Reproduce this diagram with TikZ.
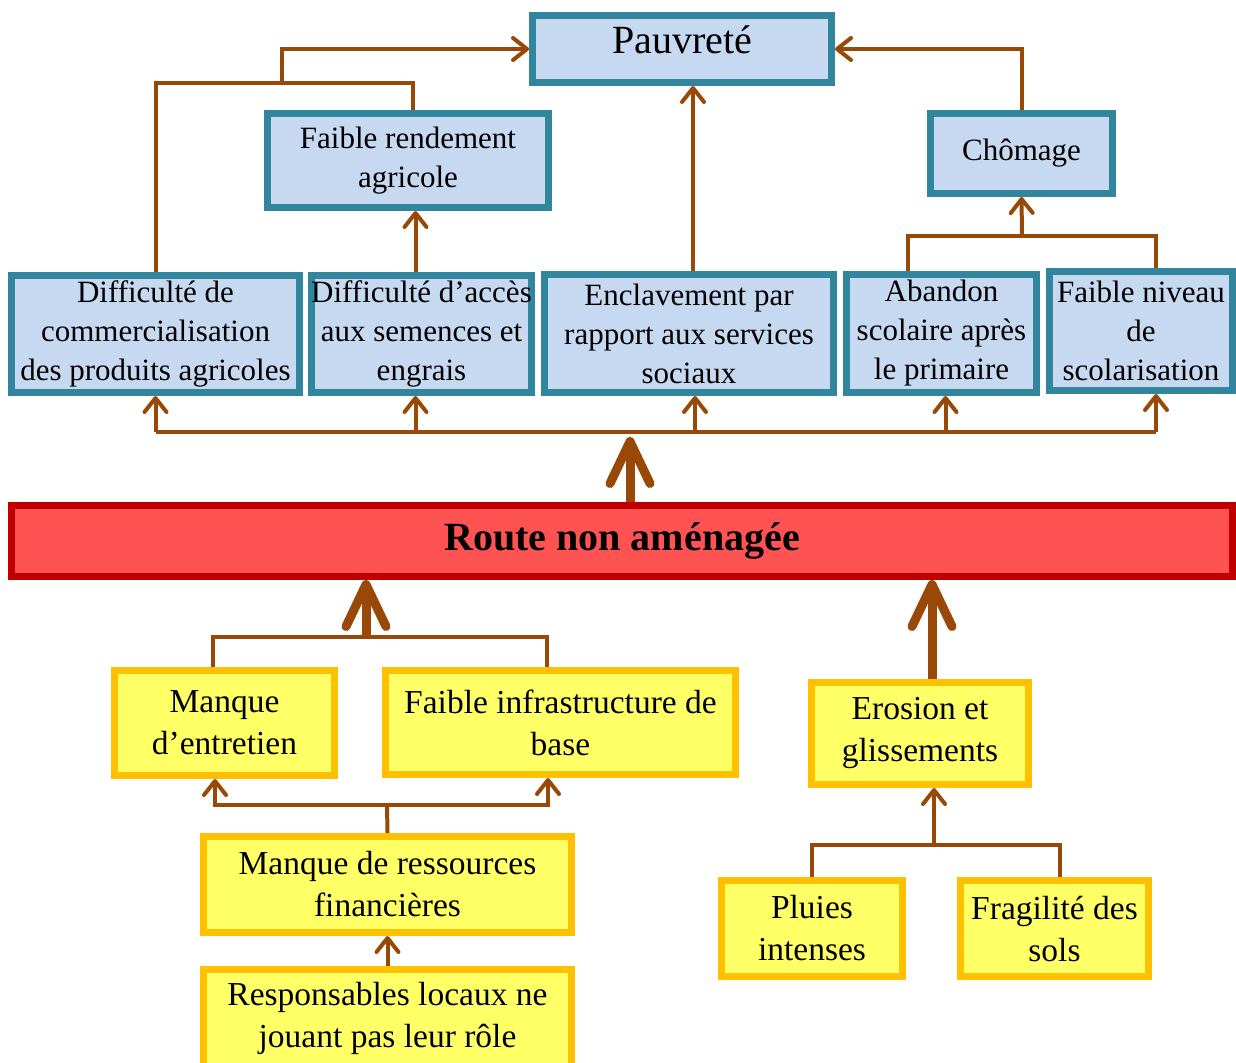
\documentclass[tikz,border=0pt]{standalone}
\usepackage{fontspec}
\setmainfont{Liberation Serif}
\usetikzlibrary{arrows.meta}

\definecolor{bleubord}{HTML}{31859C}
\definecolor{bleufond}{HTML}{C6D9F1}
\definecolor{jaunebord}{HTML}{FFC000}
\definecolor{jaunefond}{HTML}{FFFF66}
\definecolor{rougebord}{HTML}{C00000}
\definecolor{rougefond}{HTML}{FF5353}
\definecolor{brun}{HTML}{984807}

\begin{document}
\begin{tikzpicture}[x=0.5pt,y=-0.5pt]
          \tikzstyle{effet}=[draw=bleubord,fill=bleufond,line width=3.5pt,inner sep=0pt,align=center,font=\fontsize{15.5}{19.5}\selectfont]
          \tikzstyle{cause}=[draw=jaunebord,fill=jaunefond,line width=3.5pt,inner sep=0pt,align=center,font=\fontsize{16.75}{21}\selectfont]
          \tikzstyle{probleme}=[draw=rougebord,fill=rougefond,line width=3.5pt,inner sep=0pt,font=\fontsize{20}{24}\selectfont\bfseries]
          \tikzstyle{lien}=[draw=brun,line width=2pt]
          \tikzstyle{fleche}=[lien,-{Straight Barb[length=7pt,width=11pt,round]}]
          \tikzstyle{grosse}=[draw=brun,line width=4.5pt,-{Straight Barb[length=21pt,width=20pt,round]}]

          \useasboundingbox (0,0) rectangle (1236,1062);
          \clip (0,0) rectangle (1236,1062);

          % effets
          \node (pauv) at (682,49) [effet,minimum width=149.5pt,minimum height=33.5pt,font=\fontsize{20}{24}\selectfont] {Pauvreté\rule[-9pt]{0pt}{0pt}};
          \node (rend) at (408,160.5) [effet,minimum width=140.5pt,minimum height=47pt] {Faible rendement\\agricole};
          \node (chom) at (1021.5,153.5) [effet,minimum width=91pt,minimum height=40pt] {Chômage};
          \node (comm) at (155.5,334) [effet,minimum width=144pt,minimum height=58.5pt] {Difficulté de\\commercialisation\\des produits agricoles};
          \node (acces) at (421.5,334) [effet,minimum width=110pt,minimum height=58.5pt] {Difficulté d’accès\\aux semences et\\engrais};
          \node (encl) at (689,333.5) [effet,minimum width=144.5pt,minimum height=59pt] {Enclavement par\\rapport aux services\\sociaux};
          \node (aband) at (941.5,333.5) [effet,minimum width=95pt,minimum height=59pt] {Abandon\\scolaire après\\le primaire};
          \node (niveau) at (1141,331) [effet,minimum width=91.5pt,minimum height=59.5pt] {Faible niveau\\de\\scolarisation};

          % probleme central
          \node (route) at (622,541) [probleme,minimum width=610.5pt,minimum height=35.5pt] {Route non aménagée};

          % causes
          \node (entr) at (224.5,723) [cause,minimum width=110pt,minimum height=52.5pt] {Manque\\d’entretien};
          \node (infra) at (560.5,722.5) [cause,minimum width=175pt,minimum height=52pt] {Faible infrastructure de\\base};
          \node (eros) at (920,733.5) [cause,minimum width=108.5pt,minimum height=51pt] {Erosion et\\glissements};
          \node (ress) at (387.5,884.5) [cause,minimum width=184pt,minimum height=48pt] {Manque de ressources\\financières};
          \node (resp) at (387.5,1018) [cause,minimum width=184pt,minimum height=48.5pt] {Responsables locaux ne\\jouant pas leur rôle};
          \node (pluie) at (812,928.5) [cause,minimum width=90.5pt,minimum height=48pt] {Pluies\\intenses};
          \node (frag) at (1054.5,928.5) [cause,minimum width=94pt,minimum height=48pt] {Fragilité des\\sols};

          \coordinate (j1) at (282,83);
          \coordinate (j2) at (1022,236);
          \coordinate (bus) at (630,432);
          \coordinate (b1) at (366,637);
          \coordinate (b2) at (387,805);
          \coordinate (b3) at (934,845);

          % partie haute
          \draw[lien] (comm.north) |- (j1) -| ([xshift=2.5pt]rend.north);
          \draw[fleche] (j1) |- (pauv.west);
          \draw[fleche] ([xshift=-3pt]acces.north) -- ([xshift=-3pt]acces.north |- rend.south);
          \draw[fleche] ([xshift=2pt]encl.north) -- ([xshift=2pt]encl.north |- pauv.south);
          \draw[fleche] (chom.north) |- (pauv.east);
          \draw[lien] ([xshift=-17pt]aband.north) |- (j2) -| ([xshift=7.5pt]niveau.north);
          \draw[fleche] (j2) -- (chom.south);

          \draw[lien] (comm.south |- bus) -- ([xshift=7.5pt]niveau.south |- bus);
          \foreach \n/\d in {comm/0,acces/-3,encl/3,aband/2,niveau/7.5}
            \draw[fleche] ([xshift=\d pt]\n.south |- bus) -- ([xshift=\d pt]\n.south);
          \draw[grosse] (route.north -| bus) -- ([yshift=-2.5pt]bus);

          % partie basse
          \draw[grosse] (b1) -- (b1 |- route.south);
          \draw[lien] ([xshift=-6pt]entr.north) |- (b1) -| ([xshift=-7pt]infra.north);
          \draw[grosse] ([xshift=6pt]eros.north) -- ([xshift=6pt]eros.north |- route.south);
          \draw[lien] (ress.north) -- (b2);
          \draw[fleche] (b2) -| ([xshift=-4.75pt]entr.south);
          \draw[fleche] (b2) -| ([xshift=-6.25pt]infra.south);
          \draw[fleche] (resp.north) -- (ress.south);
          \draw[lien] (pluie.north) |- (b3) -| ([xshift=2.75pt]frag.north);
          \draw[fleche] (b3) -- (b3 |- eros.south);
        \end{tikzpicture}
\end{document}
